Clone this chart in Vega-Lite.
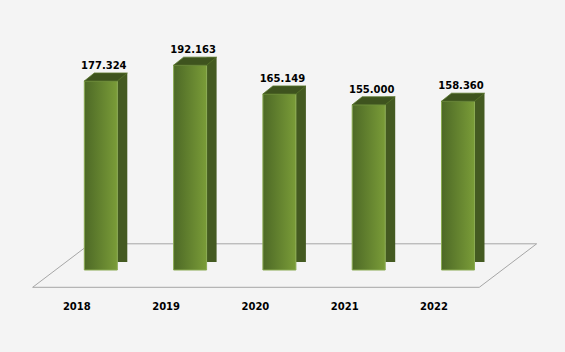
{
  "$schema": "https://vega.github.io/schema/vega-lite/v6.json",
  "width": 535.8,
  "height": 270,
  "autosize": "none",
  "padding": {"left": 11.5, "top": 0, "right": 17.7, "bottom": 82},
  "background": "#f4f4f4",
  "config": {
    "view": {"stroke": null}
  },
  "data": {"values": [
    {"year": "2018", "value": 177.324},
    {"year": "2019", "value": 192.163},
    {"year": "2020", "value": 165.149},
    {"year": "2021", "value": 155.000},
    {"year": "2022", "value": 158.360}
  ]},
  "encoding": {
    "x": {"field": "year", "type": "ordinal", "scale": {"type": "point", "padding": 1},
      "axis": {"title": null, "domain": false, "ticks": false, "grid": false, "labelAngle": 0,
        "labelOffset": -24.5, "labelPadding": 31, "labelBaseline": "top",
        "labelFont": "DejaVu Sans", "labelFontWeight": "bold", "labelFontSize": 10, "labelColor": "#000000"}}
  },
  "layer": [
    {
      "transform": [{"filter": "datum.year == '2020'"}],
      "mark": {"type": "point", "filled": false, "opacity": 1, "size": 254016,
        "shape": "M-1,0.0863L0.7724,0.0863L1,-0.0863L-0.7724,-0.0863Z",
        "stroke": "#a6a6a6", "strokeWidth": 1, "xOffset": 5.25, "yOffset": -4.45},
      "encoding": {"y": {"datum": 0, "type": "quantitative", "scale": {"domain": [0, 253.3], "nice": false, "zero": true}, "axis": null}}
    },
    {
      "mark": {"type": "bar", "width": 10, "xOffset": 21.5, "yOffset": -8, "color": "#445a21"},
      "encoding": {"y": {"field": "value", "type": "quantitative"}}
    },
    {
      "mark": {"type": "point", "filled": true, "opacity": 1, "size": 100,
        "shape": "M-1,0.8L1,-0.8L1.4,-0.8L1.4,1.4L-1,1.4Z",
        "color": "#f4f4f4", "strokeWidth": 0, "xOffset": 21.5, "yOffset": -4},
      "encoding": {"y": {"datum": 0, "type": "quantitative"}}
    },
    {
      "mark": {"type": "bar", "width": 33,
        "color": {"gradient": "linear", "x1": 0, "y1": 0, "x2": 1, "y2": 0,
          "stops": [{"offset": 0, "color": "#4d6926"}, {"offset": 1, "color": "#7a9c38"}]},
        "stroke": "#8aaa52", "strokeWidth": 1},
      "encoding": {"y": {"field": "value", "type": "quantitative"}}
    },
    {
      "mark": {"type": "point", "filled": true, "opacity": 1, "size": 1849,
        "shape": "M-1,0.186L0.5349,0.186L1,-0.186L-0.5349,-0.186Z",
        "color": "#3e531e", "stroke": "#58752b", "strokeWidth": 0.8, "xOffset": 5, "yOffset": -4},
      "encoding": {"y": {"field": "value", "type": "quantitative"}}
    },
    {
      "mark": {"type": "text", "font": "DejaVu Sans", "fontWeight": "bold", "fontSize": 10,
        "color": "#000000", "dy": -12, "dx": 3, "baseline": "alphabetic"},
      "encoding": {"y": {"field": "value", "type": "quantitative"},
        "text": {"field": "value", "type": "quantitative", "format": ".3f"}}
    }
  ]
}
